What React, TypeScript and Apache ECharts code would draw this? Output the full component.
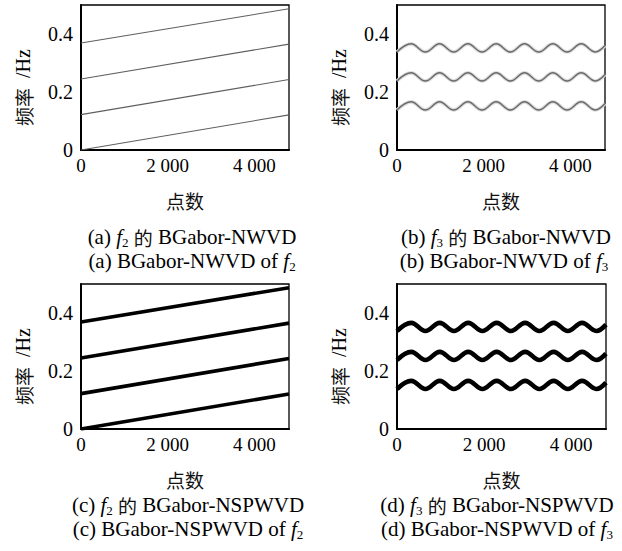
import React, { useEffect, useRef } from 'react';
import * as echarts from 'echarts';

// ---- data ----
const xTicks = [0, 2000, 4000];
const yTicks = [0, 0.2, 0.4];
const X_MAX = 4800;
const Y_MAX = 0.5;

// f2: four linear chirp ridges (start / end frequency)
const f2X = [0, 4800];
const f2Start = [0, 0.122, 0.245, 0.369];
const f2End = [0.121, 0.243, 0.365, 0.487];

// f3: three sinusoidal FM ridges, sampled at their troughs / crests
const f3X = [0, 327, 654, 981, 1308, 1635, 1962, 2289, 2616, 2943, 3270, 3597, 3924, 4251, 4578, 4800];
const f3High = [0.338, 0.366, 0.338, 0.366, 0.338, 0.366, 0.338, 0.366, 0.338, 0.366, 0.338, 0.366, 0.338, 0.366, 0.338, 0.36];
const f3Mid = [0.238, 0.266, 0.238, 0.266, 0.238, 0.266, 0.238, 0.266, 0.238, 0.266, 0.238, 0.266, 0.238, 0.266, 0.238, 0.26];
const f3Low = [0.138, 0.166, 0.138, 0.166, 0.138, 0.166, 0.138, 0.166, 0.138, 0.166, 0.138, 0.166, 0.138, 0.166, 0.138, 0.16];

const SERIF = "'Liberation Serif', 'DejaVu Serif', serif";
const CJK = "'Noto Sans CJK SC', sans-serif";

const captions = [
  { x: 192, y: 237, text: '{n|(a) }{i|f}{s|2}{n| }{c|的}{n| BGabor-NWVD}' },
  { x: 192, y: 261, text: '{n|(a) BGabor-NWVD of }{i|f}{s|2}' },
  { x: 506, y: 237, text: '{n|(b) }{i|f}{s|3}{n| }{c|的}{n| BGabor-NWVD}' },
  { x: 504, y: 261, text: '{n|(b) BGabor-NWVD of }{i|f}{s|3}' },
  { x: 188, y: 505, text: '{n|(c) }{i|f}{s|2}{n| }{c|的}{n| BGabor-NSPWVD}' },
  { x: 188, y: 529, text: '{n|(c) BGabor-NSPWVD of }{i|f}{s|2}' },
  { x: 497, y: 505, text: '{n|(d) }{i|f}{s|3}{n| }{c|的}{n| BGabor-NSPWVD}' },
  { x: 497, y: 529, text: '{n|(d) BGabor-NSPWVD of }{i|f}{s|3}' },
];

function fmtX(v: number) {
  if (v === 0) return '0';
  const th = Math.floor(v / 1000);
  const rest = String(v % 1000).padStart(3, '0');
  return th + ' ' + rest;
}

export default function App() {
  const ref = useRef<HTMLDivElement>(null);
  useEffect(() => {
    if (!ref.current) return;
    const chart = echarts.init(ref.current, undefined, { renderer: 'svg' });

    const grids = [
      { left: 81, top: 5, width: 208, height: 145 },
      { left: 397, top: 5, width: 208, height: 145 },
      { left: 81, top: 284, width: 208, height: 145 },
      { left: 397, top: 284, width: 209, height: 145 },
    ];

    const xAxes = grids.map((_, i) => ({
      type: 'value',
      gridIndex: i,
      min: xTicks[0],
      max: X_MAX,
      interval: xTicks[1] - xTicks[0],
      name: '点数',
      nameLocation: 'middle',
      nameGap: 41,
      nameTextStyle: { fontFamily: CJK, fontSize: 19, color: '#111' },
      axisLine: { show: true, lineStyle: { color: '#000', width: 2 } },
      axisTick: { show: false },
      splitLine: { show: false },
      axisLabel: {
        color: '#000',
        fontFamily: SERIF,
        fontSize: 19,
        margin: 6,
        showMaxLabel: false,
        formatter: (v: number) => fmtX(v),
      },
    }));

    const yAxes = grids.map((_, i) => ({
      type: 'value',
      gridIndex: i,
      min: yTicks[0],
      max: Y_MAX,
      interval: yTicks[1] - yTicks[0],
      name: '{c|频率}{n|  /Hz}',
      nameLocation: 'middle',
      nameGap: 48,
      nameTextStyle: {
        padding: [0, 20, 0, 0],
        rich: {
          c: { fontFamily: CJK, fontSize: 19, color: '#111' },
          n: { fontFamily: SERIF, fontSize: 20, color: '#000' },
        },
      },
      axisLine: { show: true, lineStyle: { color: '#000', width: 2 } },
      axisTick: { show: false },
      splitLine: { show: false },
      axisLabel: {
        color: '#000',
        fontFamily: SERIF,
        fontSize: 20,
        margin: 8,
        showMaxLabel: false,
        formatter: (v: number) => String(Math.round(v * 10) / 10),
      },
    }));

    const series: any[] = [];
    const f2Pairs = (k: number) => f2X.map((x, j) => [x, j === 0 ? f2Start[k] : f2End[k]]);
    const f3Pairs = (ys: number[]) => f3X.map((x, j) => [x, ys[j]]);

    // (a) thin grey ridges
    f2Start.forEach((_, k) => {
      series.push({
        type: 'line', xAxisIndex: 0, yAxisIndex: 0, data: f2Pairs(k),
        showSymbol: false, silent: true,
        lineStyle: { color: '#5f5f5f', width: 1.1 },
      });
    });
    // (b) grey wavy ridges with soft halo
    [f3High, f3Mid, f3Low].forEach((ys) => {
      series.push({
        type: 'line', xAxisIndex: 1, yAxisIndex: 1, data: f3Pairs(ys),
        showSymbol: false, silent: true, smooth: 0.4,
        lineStyle: { color: '#dcdcdc', width: 3.6 },
      });
      series.push({
        type: 'line', xAxisIndex: 1, yAxisIndex: 1, data: f3Pairs(ys),
        showSymbol: false, silent: true, smooth: 0.4,
        lineStyle: { color: '#6a6a6a', width: 1.5 },
      });
    });
    // (c) thick black ridges
    f2Start.forEach((_, k) => {
      series.push({
        type: 'line', xAxisIndex: 2, yAxisIndex: 2, data: f2Pairs(k),
        showSymbol: false, silent: true,
        lineStyle: { color: '#000', width: 3.6 },
      });
    });
    // (d) thick black wavy ridges
    [f3High, f3Mid, f3Low].forEach((ys) => {
      series.push({
        type: 'line', xAxisIndex: 3, yAxisIndex: 3, data: f3Pairs(ys),
        showSymbol: false, silent: true, smooth: 0.4,
        lineStyle: { color: '#000', width: 4.6 },
      });
    });

    const graphic = captions.map((c) => ({
      type: 'text',
      x: c.x,
      y: c.y,
      silent: true,
      style: {
        text: c.text,
        align: 'center',
        verticalAlign: 'middle',
        fill: '#000',
        rich: {
          n: { fontFamily: SERIF, fontSize: 21, lineHeight: 24, fill: '#000' },
          i: { fontFamily: SERIF, fontSize: 21, fontStyle: 'italic', lineHeight: 24, fill: '#000' },
          s: { fontFamily: SERIF, fontSize: 13, lineHeight: 13, verticalAlign: 'bottom', fill: '#000' },
          c: { fontFamily: CJK, fontSize: 19, lineHeight: 24, fill: '#111' },
        },
      },
    }));

    chart.setOption({
      animation: false,
      backgroundColor: '#fff',
      grid: grids.map((g) => ({ ...g, show: true, borderColor: '#000', borderWidth: 1.3, backgroundColor: 'transparent' })),
      xAxis: xAxes,
      yAxis: yAxes,
      series,
      graphic,
    } as any);

    return () => chart.dispose();
  }, []);

  return (
    <div
      ref={ref}
      style={{ position: 'absolute', left: 0, top: 0, width: 622, height: 551, background: '#fff' }}
    />
  );
}
